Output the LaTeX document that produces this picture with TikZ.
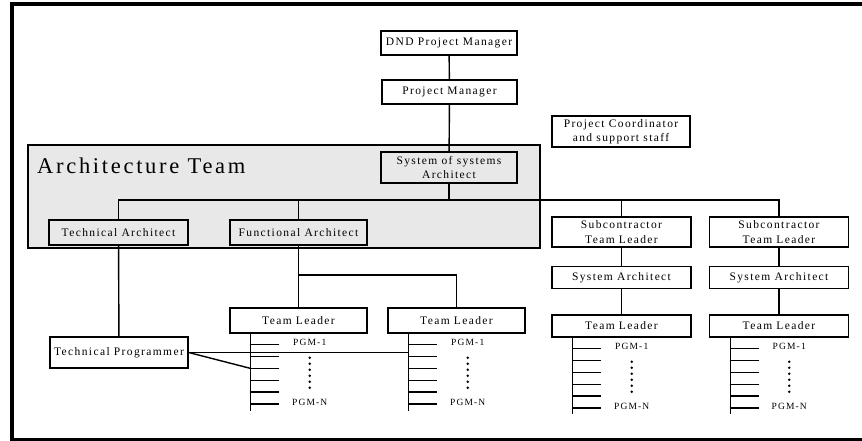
\documentclass[tikz,border=0pt]{standalone}
\usepackage{fontspec}
\setmainfont{Liberation Serif}[LetterSpace=12]
\usetikzlibrary{calc}
\definecolor{teamgray}{RGB}{232,232,232}
\begin{document}
\begin{tikzpicture}[x=1pt,y=-1pt,
  wire/.style={draw=black,line width=1.4pt},
  box/.style={draw=black,line width=1.5pt,inner sep=0pt,align=center,
    minimum width=#1,minimum height=24pt,
    font=\fontsize{11.5}{14.5}\selectfont},
  box/.default=137,
  tall/.style={minimum height=31pt},
  teambox/.style={draw=black,line width=1.5pt,fill=teamgray,inner sep=0pt,
    minimum width=512pt,minimum height=103pt},
  pgm/.style={inner sep=0pt,font=\fontsize{9.5}{10}\selectfont},
  dot/.style={fill=black}]
\useasboundingbox (0,0) rectangle (862,440);

% outer frame
\draw[line width=4pt] (12,446) -- (12,3.8) -- (870,3.8);
\draw[line width=3pt] (10,439.5) -- (870,439.5);

% architecture team panel
\node[teambox] (team) at (284,196.5) {};
\node[anchor=base west,inner sep=0pt,font=\fontsize{22.5}{24}\selectfont] (teamlabel) at (37,173) {Architecture Team};

% management chain
\node[box=136] (dnd) at (449,43) {DND Project Manager};
\node[box=135] (pm) at (449.5,92) {Project Manager};
\node[box=138,tall] (coord) at (621,131.5) {Project Coordinator\\and support staff};
\node[box=136,tall] (sos) at (449,167.5) {System of systems\\Architect};

% architecture roles
\node[box=139,minimum height=25pt] (ta) at (118.5,232.5) {Technical Architect};
\node[box=137,minimum height=25pt] (fa) at (298.5,232.5) {Functional Architect};

% subcontractor columns
\node[box=139,minimum height=30pt] (sub1) at (621.5,232) {Subcontractor\\Team Leader};
\node[box=139,minimum height=30pt] (sub2) at (779,232) {Subcontractor\\Team Leader};
\node[box=139,minimum height=22pt] (sa1) at (621.5,277.5) {System Architect};
\node[box=139,minimum height=22pt] (sa2) at (779,277.5) {System Architect};
\node[box=139,minimum height=22pt] (tlr1) at (621.5,326) {Team Leader};
\node[box=139,minimum height=22pt] (tlr2) at (779,326) {Team Leader};

% in-house teams
\node[box=137,minimum height=25pt] (tl1) at (298.5,320.5) {Team Leader};
\node[box=137,minimum height=25pt] (tl2) at (456.5,320.5) {Team Leader};
\node[box=138,tall] (tp) at (119,352.5) {Technical Programmer};

% reporting lines
\coordinate (bus) at (448,200);
\coordinate (split) at (299,275);
\draw[wire] (dnd) -- (pm);
\draw[wire] (pm) -- (sos);
\draw[wire] (sos.south) -- (sos.south |- bus);
\draw[wire] (ta.north) |- (sub2.north |- bus) -- (sub2.north);
\draw[wire] (fa.north) -- (fa.north |- bus);
\draw[wire] (sub1.north) -- (sub1.north |- bus);
\draw[wire] (sub1) -- (sa1);
\draw[wire] (sa1) -- (tlr1);
\draw[wire] (sub2) -- (sa2);
\draw[wire] (sa2) -- (tlr2);
\draw[wire] (ta) -- (tp);
\draw[wire] (fa.south) -- (tl1.north);
\draw[wire] (fa.south |- split) -| (tl2.north);

% programmer ladders under each team leader
\foreach \t/\len in {tl1/79,tl2/79,tlr1/78,tlr2/78}{
  \coordinate (\t-rail) at ($(\t.south west)+(21.5,-2)$);
  \draw[wire] (\t-rail) -- ++(0,\len);
  \foreach \k in {0,...,5}{
    \coordinate (\t-p\k) at ($(\t.south west)+(21.5,11+11.85*\k)$);
    \draw[wire] (\t-p\k) -- ++(28.5,0);
  }
  \node[pgm] (\t-first) at ($(\t.south west)+(80.5,9)$) {PGM-1};
  \node[pgm] (\t-last) at ($(\t.south west)+(80.5,69)$) {PGM-N};
  \foreach \k in {0,...,5}
    \fill[dot] ($(\t.south west)+(80.5,24+6*\k)$) circle (1.4);
}

% technical programmer links into the teams
\draw[wire] (tp.east) -- (tp.east -| tl2-rail);
\draw[wire] (tp.east) -- (tl1-p2);
\end{tikzpicture}
\end{document}
